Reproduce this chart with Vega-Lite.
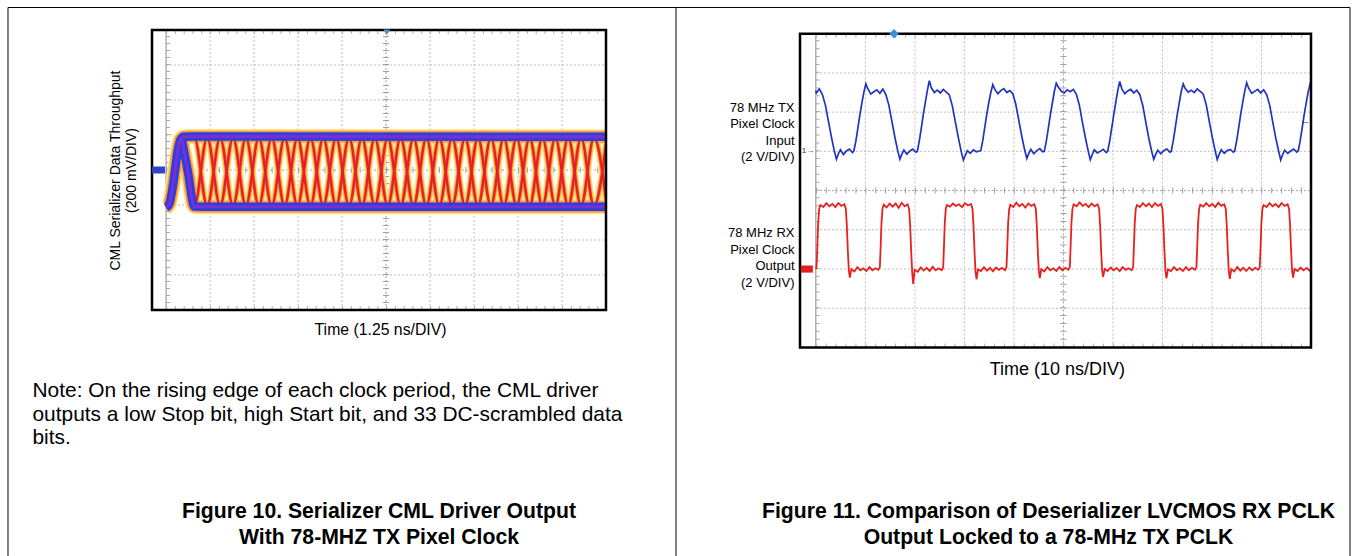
{
  "$schema": "https://vega.github.io/schema/vega-lite/v6.json",
  "background": "white",
  "padding": {"left": 7, "top": 6, "right": 2, "bottom": 0},
  "bounds": "flush",
  "spacing": 194,
  "config": {
    "view": {"stroke": null},
    "font": "Liberation Sans",
    "axis": {"domain": false, "ticks": false, "grid": false, "labelColor": "#000", "titleColor": "#000", "titleFontWeight": "normal", "labelFont": "Liberation Sans", "titleFont": "Liberation Sans"},
    "title": {"font": "Liberation Sans", "color": "#000"}
  },
  "datasets": {
    "one": [{}],
    "gridLx": [{"t":1.25},{"t":2.5},{"t":3.75},{"t":5},{"t":7.5},{"t":8.75},{"t":10},{"t":11.25}],
    "gridLy": [{"v":-600},{"v":-400},{"v":-200},{"v":200},{"v":400},{"v":600}],
    "gridRx": [{"t":10},{"t":20},{"t":30},{"t":40},{"t":60},{"t":70},{"t":80},{"t":90}],
    "gridRy": [{"v":-3},{"v":-2},{"v":-1},{"v":1},{"v":2},{"v":3}],
    "eye": [
      {"trace":"A","t":0.437,"v":185},{"trace":"A","t":0.803,"v":-205},{"trace":"A","t":1.169,"v":185},{"trace":"A","t":1.536,"v":-205},{"trace":"A","t":1.902,"v":185},{"trace":"A","t":2.268,"v":-205},{"trace":"A","t":2.635,"v":185},{"trace":"A","t":3.001,"v":-205},{"trace":"A","t":3.367,"v":185},{"trace":"A","t":3.733,"v":-205},{"trace":"A","t":4.1,"v":185},{"trace":"A","t":4.466,"v":-205},{"trace":"A","t":4.832,"v":185},{"trace":"A","t":5.199,"v":-205},{"trace":"A","t":5.565,"v":185},{"trace":"A","t":5.931,"v":-205},{"trace":"A","t":6.298,"v":185},{"trace":"A","t":6.664,"v":-205},{"trace":"A","t":7.03,"v":185},{"trace":"A","t":7.396,"v":-205},{"trace":"A","t":7.763,"v":185},{"trace":"A","t":8.129,"v":-205},{"trace":"A","t":8.495,"v":185},{"trace":"A","t":8.862,"v":-205},{"trace":"A","t":9.228,"v":185},{"trace":"A","t":9.594,"v":-205},{"trace":"A","t":9.961,"v":185},{"trace":"A","t":10.327,"v":-205},{"trace":"A","t":10.693,"v":185},{"trace":"A","t":11.06,"v":-205},{"trace":"A","t":11.426,"v":185},{"trace":"A","t":11.792,"v":-205},{"trace":"A","t":12.158,"v":185},{"trace":"A","t":12.525,"v":-205},
      {"trace":"B","t":0.437,"v":185},{"trace":"B","t":0.803,"v":185},{"trace":"B","t":1.169,"v":-205},{"trace":"B","t":1.536,"v":185},{"trace":"B","t":1.902,"v":-205},{"trace":"B","t":2.268,"v":185},{"trace":"B","t":2.635,"v":-205},{"trace":"B","t":3.001,"v":185},{"trace":"B","t":3.367,"v":-205},{"trace":"B","t":3.733,"v":185},{"trace":"B","t":4.1,"v":-205},{"trace":"B","t":4.466,"v":185},{"trace":"B","t":4.832,"v":-205},{"trace":"B","t":5.199,"v":185},{"trace":"B","t":5.565,"v":-205},{"trace":"B","t":5.931,"v":185},{"trace":"B","t":6.298,"v":-205},{"trace":"B","t":6.664,"v":185},{"trace":"B","t":7.03,"v":-205},{"trace":"B","t":7.396,"v":185},{"trace":"B","t":7.763,"v":-205},{"trace":"B","t":8.129,"v":185},{"trace":"B","t":8.495,"v":-205},{"trace":"B","t":8.862,"v":185},{"trace":"B","t":9.228,"v":-205},{"trace":"B","t":9.594,"v":185},{"trace":"B","t":9.961,"v":-205},{"trace":"B","t":10.327,"v":185},{"trace":"B","t":10.693,"v":-205},{"trace":"B","t":11.06,"v":185},{"trace":"B","t":11.426,"v":-205},{"trace":"B","t":11.792,"v":185},{"trace":"B","t":12.158,"v":-205},{"trace":"B","t":12.525,"v":185}
    ],
    "band": [
      {"trace":"hi","t":0,"v":-215},{"trace":"hi","t":0.09,"v":-195},{"trace":"hi","t":0.17,"v":-120},{"trace":"hi","t":0.25,"v":-10},{"trace":"hi","t":0.33,"v":110},{"trace":"hi","t":0.41,"v":175},{"trace":"hi","t":0.5,"v":190},{"trace":"hi","t":0.8,"v":191},{"trace":"hi","t":12.5,"v":190},
      {"trace":"lo","t":0.437,"v":188},{"trace":"lo","t":0.62,"v":-10},{"trace":"lo","t":0.803,"v":-208},{"trace":"lo","t":1.2,"v":-210},{"trace":"lo","t":12.5,"v":-210}
    ],
    "tx": [
      {"t":0,"v":2.55},{"t":0.111,"v":2.49},{"t":0.717,"v":2.59},{"t":1.323,"v":2.45},{"t":1.929,"v":2.18},{"t":2.536,"v":1.77},{"t":3.142,"v":1.37},{"t":3.748,"v":1.0},{"t":4.152,"v":0.8},{"t":4.556,"v":0.94},{"t":4.96,"v":1.04},{"t":5.566,"v":0.92},{"t":6.172,"v":1.01},{"t":6.778,"v":1.06},{"t":7.384,"v":0.97},
      {"t":7.677,"v":1.01},{"t":8.081,"v":1.26},{"t":8.485,"v":1.59},{"t":8.889,"v":1.93},{"t":9.293,"v":2.23},{"t":9.697,"v":2.51},{"t":10.101,"v":2.72},{"t":10.505,"v":2.59},{"t":11.111,"v":2.46},{"t":11.717,"v":2.52},{"t":12.323,"v":2.57},{"t":12.929,"v":2.48},{"t":13.535,"v":2.59},{"t":14.141,"v":2.45},{"t":14.747,"v":2.18},{"t":15.354,"v":1.77},{"t":15.96,"v":1.36},{"t":16.566,"v":1.0},{"t":16.97,"v":0.8},{"t":17.374,"v":0.93},{"t":17.778,"v":1.03},{"t":18.384,"v":0.93},{"t":18.99,"v":1.01},{"t":19.596,"v":1.06},{"t":20.202,"v":0.98},
      {"t":20.495,"v":1.0},{"t":20.899,"v":1.27},{"t":21.303,"v":1.6},{"t":21.707,"v":1.94},{"t":22.111,"v":2.25},{"t":22.515,"v":2.55},{"t":22.919,"v":2.8},{"t":23.323,"v":2.62},{"t":23.929,"v":2.5},{"t":24.535,"v":2.56},{"t":25.141,"v":2.49},{"t":25.747,"v":2.58},{"t":26.353,"v":2.51},{"t":26.959,"v":2.44},{"t":27.565,"v":2.16},{"t":28.172,"v":1.75},{"t":28.778,"v":1.35},{"t":29.384,"v":0.98},{"t":29.788,"v":0.78},{"t":30.192,"v":0.9},{"t":30.596,"v":1.02},{"t":31.202,"v":0.95},{"t":31.808,"v":1.04},{"t":32.414,"v":0.99},{"t":33.02,"v":1.01},
      {"t":33.313,"v":1.02},{"t":33.717,"v":1.28},{"t":34.121,"v":1.62},{"t":34.525,"v":1.95},{"t":34.929,"v":2.24},{"t":35.333,"v":2.5},{"t":35.737,"v":2.7},{"t":36.141,"v":2.58},{"t":36.747,"v":2.47},{"t":37.353,"v":2.55},{"t":37.959,"v":2.6},{"t":38.565,"v":2.5},{"t":39.171,"v":2.55},{"t":39.777,"v":2.47},{"t":40.383,"v":2.2},{"t":40.99,"v":1.79},{"t":41.596,"v":1.38},{"t":42.202,"v":1.02},{"t":42.606,"v":0.82},{"t":43.01,"v":0.95},{"t":43.414,"v":1.05},{"t":44.02,"v":0.94},{"t":44.626,"v":1.02},{"t":45.232,"v":1.07},{"t":45.838,"v":0.99},
      {"t":46.131,"v":1.0},{"t":46.535,"v":1.25},{"t":46.939,"v":1.58},{"t":47.343,"v":1.92},{"t":47.747,"v":2.22},{"t":48.151,"v":2.52},{"t":48.555,"v":2.74},{"t":48.959,"v":2.64},{"t":49.565,"v":2.53},{"t":50.171,"v":2.49},{"t":50.777,"v":2.57},{"t":51.383,"v":2.52},{"t":51.989,"v":2.58},{"t":52.595,"v":2.46},{"t":53.201,"v":2.19},{"t":53.808,"v":1.76},{"t":54.414,"v":1.36},{"t":55.02,"v":1.0},{"t":55.424,"v":0.79},{"t":55.828,"v":0.92},{"t":56.232,"v":1.04},{"t":56.838,"v":0.96},{"t":57.444,"v":1.0},{"t":58.05,"v":1.05},{"t":58.656,"v":0.97},
      {"t":58.95,"v":1.01},{"t":59.354,"v":1.27},{"t":59.758,"v":1.6},{"t":60.162,"v":1.93},{"t":60.566,"v":2.24},{"t":60.97,"v":2.55},{"t":61.374,"v":2.78},{"t":61.778,"v":2.6},{"t":62.384,"v":2.47},{"t":62.99,"v":2.54},{"t":63.596,"v":2.58},{"t":64.202,"v":2.49},{"t":64.808,"v":2.56},{"t":65.414,"v":2.45},{"t":66.02,"v":2.17},{"t":66.627,"v":1.75},{"t":67.233,"v":1.34},{"t":67.839,"v":0.99},{"t":68.243,"v":0.8},{"t":68.647,"v":0.93},{"t":69.051,"v":1.03},{"t":69.657,"v":0.94},{"t":70.263,"v":1.02},{"t":70.869,"v":1.06},{"t":71.475,"v":0.98},
      {"t":71.768,"v":1.0},{"t":72.172,"v":1.26},{"t":72.576,"v":1.59},{"t":72.98,"v":1.93},{"t":73.384,"v":2.23},{"t":73.788,"v":2.52},{"t":74.192,"v":2.72},{"t":74.596,"v":2.6},{"t":75.202,"v":2.51},{"t":75.808,"v":2.56},{"t":76.414,"v":2.5},{"t":77.02,"v":2.59},{"t":77.626,"v":2.53},{"t":78.232,"v":2.46},{"t":78.838,"v":2.19},{"t":79.445,"v":1.77},{"t":80.051,"v":1.37},{"t":80.657,"v":1.01},{"t":81.061,"v":0.79},{"t":81.465,"v":0.93},{"t":81.869,"v":1.04},{"t":82.475,"v":0.95},{"t":83.081,"v":1.02},{"t":83.687,"v":1.05},{"t":84.293,"v":0.98},
      {"t":84.586,"v":1.01},{"t":84.99,"v":1.27},{"t":85.394,"v":1.6},{"t":85.798,"v":1.94},{"t":86.202,"v":2.24},{"t":86.606,"v":2.53},{"t":87.01,"v":2.75},{"t":87.414,"v":2.61},{"t":88.02,"v":2.48},{"t":88.626,"v":2.53},{"t":89.232,"v":2.58},{"t":89.838,"v":2.49},{"t":90.444,"v":2.57},{"t":91.05,"v":2.45},{"t":91.656,"v":2.18},{"t":92.263,"v":1.76},{"t":92.869,"v":1.35},{"t":93.475,"v":1.0},{"t":93.879,"v":0.78},{"t":94.283,"v":0.92},{"t":94.687,"v":1.03},{"t":95.293,"v":0.95},{"t":95.899,"v":1.01},{"t":96.505,"v":1.06},{"t":97.111,"v":0.98},
      {"t":97.404,"v":1.01},{"t":97.808,"v":1.26},{"t":98.212,"v":1.59},{"t":98.616,"v":1.93},{"t":99.02,"v":2.23},{"t":99.424,"v":2.51},{"t":99.828,"v":2.72},{"t":100.232,"v":2.6}
    ],
    "rx": [
      {"t":0,"v":-2.0},
      {"t":0.141,"v":-1.95},{"t":0.303,"v":-1.42},{"t":0.465,"v":-0.83},{"t":0.667,"v":-0.47},{"t":0.909,"v":-0.37},{"t":1.515,"v":-0.42},{"t":2.121,"v":-0.32},{"t":2.727,"v":-0.4},{"t":3.333,"v":-0.34},{"t":3.939,"v":-0.42},{"t":4.545,"v":-0.32},{"t":5.151,"v":-0.39},{"t":5.758,"v":-0.35},{"t":6.061,"v":-0.47},{"t":6.263,"v":-0.91},{"t":6.465,"v":-1.54},{"t":6.667,"v":-2.05},{"t":6.869,"v":-2.22},{"t":7.172,"v":-2.0},{"t":7.778,"v":-2.06},{"t":8.384,"v":-1.95},{"t":8.99,"v":-2.03},{"t":9.596,"v":-1.98},{"t":10.202,"v":-2.05},{"t":10.808,"v":-1.95},{"t":11.414,"v":-2.03},{"t":12.02,"v":-1.98},{"t":12.626,"v":-2.02},
      {"t":12.929,"v":-1.95},{"t":13.091,"v":-1.42},{"t":13.253,"v":-0.83},{"t":13.455,"v":-0.47},{"t":13.697,"v":-0.36},{"t":14.303,"v":-0.43},{"t":14.909,"v":-0.33},{"t":15.515,"v":-0.41},{"t":16.121,"v":-0.33},{"t":16.727,"v":-0.44},{"t":17.333,"v":-0.31},{"t":17.939,"v":-0.4},{"t":18.546,"v":-0.35},{"t":18.849,"v":-0.48},{"t":19.051,"v":-0.91},{"t":19.253,"v":-1.55},{"t":19.455,"v":-2.08},{"t":19.657,"v":-2.38},{"t":19.96,"v":-2.02},{"t":20.566,"v":-2.07},{"t":21.172,"v":-1.96},{"t":21.778,"v":-2.04},{"t":22.384,"v":-1.97},{"t":22.99,"v":-2.05},{"t":23.596,"v":-1.94},{"t":24.202,"v":-2.03},{"t":24.808,"v":-1.98},{"t":25.414,"v":-2.03},
      {"t":25.717,"v":-1.96},{"t":25.879,"v":-1.41},{"t":26.041,"v":-0.82},{"t":26.243,"v":-0.46},{"t":26.485,"v":-0.37},{"t":27.091,"v":-0.41},{"t":27.697,"v":-0.33},{"t":28.303,"v":-0.39},{"t":28.909,"v":-0.35},{"t":29.515,"v":-0.42},{"t":30.121,"v":-0.32},{"t":30.727,"v":-0.38},{"t":31.334,"v":-0.34},{"t":31.637,"v":-0.47},{"t":31.839,"v":-0.9},{"t":32.041,"v":-1.54},{"t":32.243,"v":-2.06},{"t":32.445,"v":-2.26},{"t":32.748,"v":-2.01},{"t":33.354,"v":-2.05},{"t":33.96,"v":-1.95},{"t":34.566,"v":-2.04},{"t":35.172,"v":-1.97},{"t":35.778,"v":-2.06},{"t":36.384,"v":-1.96},{"t":36.99,"v":-2.02},{"t":37.596,"v":-1.97},{"t":38.202,"v":-2.03},
      {"t":38.505,"v":-1.95},{"t":38.667,"v":-1.42},{"t":38.829,"v":-0.84},{"t":39.031,"v":-0.48},{"t":39.273,"v":-0.36},{"t":39.879,"v":-0.42},{"t":40.485,"v":-0.31},{"t":41.091,"v":-0.4},{"t":41.697,"v":-0.34},{"t":42.303,"v":-0.43},{"t":42.909,"v":-0.33},{"t":43.515,"v":-0.39},{"t":44.122,"v":-0.35},{"t":44.425,"v":-0.47},{"t":44.627,"v":-0.91},{"t":44.829,"v":-1.54},{"t":45.031,"v":-2.05},{"t":45.233,"v":-2.23},{"t":45.536,"v":-2.0},{"t":46.142,"v":-2.06},{"t":46.748,"v":-1.95},{"t":47.354,"v":-2.03},{"t":47.96,"v":-1.98},{"t":48.566,"v":-2.05},{"t":49.172,"v":-1.95},{"t":49.778,"v":-2.03},{"t":50.384,"v":-1.97},{"t":50.99,"v":-2.02},
      {"t":51.293,"v":-1.95},{"t":51.455,"v":-1.42},{"t":51.617,"v":-0.83},{"t":51.819,"v":-0.47},{"t":52.061,"v":-0.35},{"t":52.667,"v":-0.4},{"t":53.273,"v":-0.3},{"t":53.879,"v":-0.39},{"t":54.485,"v":-0.34},{"t":55.091,"v":-0.42},{"t":55.697,"v":-0.33},{"t":56.303,"v":-0.4},{"t":56.91,"v":-0.35},{"t":57.213,"v":-0.47},{"t":57.415,"v":-0.91},{"t":57.617,"v":-1.54},{"t":57.819,"v":-2.05},{"t":58.021,"v":-2.2},{"t":58.324,"v":-2.0},{"t":58.93,"v":-2.05},{"t":59.536,"v":-1.96},{"t":60.142,"v":-2.03},{"t":60.748,"v":-1.97},{"t":61.354,"v":-2.05},{"t":61.96,"v":-1.95},{"t":62.566,"v":-2.02},{"t":63.172,"v":-1.98},{"t":63.778,"v":-2.03},
      {"t":64.08,"v":-1.95},{"t":64.242,"v":-1.41},{"t":64.404,"v":-0.83},{"t":64.606,"v":-0.47},{"t":64.848,"v":-0.37},{"t":65.454,"v":-0.42},{"t":66.06,"v":-0.32},{"t":66.666,"v":-0.4},{"t":67.272,"v":-0.33},{"t":67.878,"v":-0.42},{"t":68.484,"v":-0.32},{"t":69.09,"v":-0.39},{"t":69.697,"v":-0.34},{"t":70.0,"v":-0.47},{"t":70.202,"v":-0.91},{"t":70.404,"v":-1.55},{"t":70.606,"v":-2.06},{"t":70.808,"v":-2.24},{"t":71.111,"v":-2.01},{"t":71.717,"v":-2.05},{"t":72.323,"v":-1.95},{"t":72.929,"v":-2.03},{"t":73.535,"v":-1.98},{"t":74.141,"v":-2.05},{"t":74.747,"v":-1.95},{"t":75.353,"v":-2.03},{"t":75.959,"v":-1.97},{"t":76.565,"v":-2.02},
      {"t":76.868,"v":-1.95},{"t":77.03,"v":-1.42},{"t":77.192,"v":-0.83},{"t":77.394,"v":-0.47},{"t":77.636,"v":-0.36},{"t":78.242,"v":-0.41},{"t":78.848,"v":-0.32},{"t":79.454,"v":-0.4},{"t":80.06,"v":-0.34},{"t":80.666,"v":-0.42},{"t":81.272,"v":-0.31},{"t":81.878,"v":-0.39},{"t":82.485,"v":-0.35},{"t":82.788,"v":-0.47},{"t":82.99,"v":-0.9},{"t":83.192,"v":-1.54},{"t":83.394,"v":-2.05},{"t":83.596,"v":-2.25},{"t":83.899,"v":-2.0},{"t":84.505,"v":-2.06},{"t":85.111,"v":-1.95},{"t":85.717,"v":-2.04},{"t":86.323,"v":-1.97},{"t":86.929,"v":-2.05},{"t":87.535,"v":-1.96},{"t":88.141,"v":-2.03},{"t":88.747,"v":-1.97},{"t":89.353,"v":-2.02},
      {"t":89.656,"v":-1.95},{"t":89.818,"v":-1.42},{"t":89.98,"v":-0.83},{"t":90.182,"v":-0.47},{"t":90.424,"v":-0.37},{"t":91.03,"v":-0.42},{"t":91.636,"v":-0.32},{"t":92.242,"v":-0.4},{"t":92.848,"v":-0.34},{"t":93.454,"v":-0.42},{"t":94.06,"v":-0.32},{"t":94.666,"v":-0.39},{"t":95.273,"v":-0.35},{"t":95.576,"v":-0.47},{"t":95.778,"v":-0.91},{"t":95.98,"v":-1.54},{"t":96.182,"v":-2.05},{"t":96.384,"v":-2.22},{"t":96.687,"v":-2.0},{"t":97.293,"v":-2.05},{"t":97.899,"v":-1.96},{"t":98.505,"v":-2.03},{"t":99.111,"v":-1.97},{"t":99.717,"v":-2.04},{"t":100,"v":-2.0}
    ]
  },
  "hconcat": [
    {
      "width": 454,
      "height": 280,
      "title": {"text": ["Figure 10. Serializer CML Driver Output", "With 78-MHZ TX Pixel Clock"], "orient": "bottom", "anchor": "middle", "frame": "group", "baseline": "top", "fontSize": 21.2, "fontWeight": "bold", "lineHeight": 26, "offset": -55},
      "layer": [
        {
          "data": {"name": "gridLx"},
          "mark": {"type": "rule", "color": "#bdbdbd", "strokeWidth": 1, "strokeDash": [2, 2]},
          "encoding": {
            "x": {"field": "t", "type": "quantitative", "scale": {"domain": [-0.4, 12.5], "nice": false, "zero": false},
                  "axis": {"values": [6.25], "labelExpr": "'Time (1.25 ns/DIV)'", "labelFontSize": 15.8, "labelPadding": 12, "labelOffset": -6, "labelOverlap": false, "labelFlush": false, "labelBound": false,
                           "title": ["Note: On the rising edge of each clock period, the CML driver", "outputs a low Stop bit, high Start bit, and 33 DC-scrambled data", "bits."],
                           "titleFontSize": 20.9, "titleLineHeight": 23.5, "titleAlign": "left", "titleAnchor": "start", "titleX": -120, "titlePadding": 43}},
            "y": {"datum": -800, "type": "quantitative", "scale": {"domain": [-800, 800], "nice": false, "zero": false},
                  "axis": {"labels": false, "title": ["CML Serializer Data Throughput", "(200 mV/DIV)"], "titleFontSize": 14, "titleLineHeight": 16, "titlePadding": 14}},
            "y2": {"datum": 800}
          }
        },
        {
          "data": {"name": "gridLy"},
          "mark": {"type": "rule", "color": "#bdbdbd", "strokeWidth": 1, "strokeDash": [2, 2]},
          "encoding": {"y": {"field": "v", "type": "quantitative"}, "x": {"datum": 0}, "x2": {"datum": 12.5}}
        },
        {
          "data": {"name": "one"},
          "mark": {"type": "rule", "color": "#a0a0a0", "strokeWidth": 1, "strokeDash": [2, 2]},
          "encoding": {"x": {"datum": 6.25}, "y": {"datum": -800}, "y2": {"datum": 800}}
        },
        {
          "data": {"name": "one"},
          "mark": {"type": "rule", "color": "#a0a0a0", "strokeWidth": 6, "strokeDash": [1, 6]},
          "encoding": {"x": {"datum": 6.25}, "y": {"datum": -800}, "y2": {"datum": 800}}
        },
        {
          "data": {"name": "one"},
          "mark": {"type": "rule", "color": "#a0a0a0", "strokeWidth": 1, "strokeDash": [2, 2]},
          "encoding": {"y": {"datum": 0}, "x": {"datum": 0}, "x2": {"datum": 12.5}}
        },
        {
          "data": {"name": "one"},
          "mark": {"type": "rule", "color": "#a0a0a0", "strokeWidth": 6, "strokeDash": [1, 7.8]},
          "encoding": {"y": {"datum": 0}, "x": {"datum": 0}, "x2": {"datum": 12.5}}
        },
        {
          "data": {"name": "one"},
          "mark": {"type": "rule", "color": "#8a8a8a", "strokeWidth": 1},
          "encoding": {"x": {"datum": 0}, "y": {"datum": -800}, "y2": {"datum": 800}}
        },
        {
          "data": {"name": "one"},
          "mark": {"type": "rule", "color": "#a8a8a8", "strokeWidth": 4, "strokeDash": [1, 6]},
          "encoding": {"x": {"datum": 0.055}, "y": {"datum": -800}, "y2": {"datum": 800}}
        },
        {
          "data": {"name": "one"},
          "mark": {"type": "rule", "color": "#b0b0b0", "strokeWidth": 4, "strokeDash": [1, 7.8]},
          "encoding": {"y": {"datum": 789}, "x": {"datum": 0}, "x2": {"datum": 12.5}}
        },
        {
          "data": {"name": "one"},
          "mark": {"type": "rule", "color": "#b0b0b0", "strokeWidth": 4, "strokeDash": [1, 7.8]},
          "encoding": {"y": {"datum": -789}, "x": {"datum": 0}, "x2": {"datum": 12.5}}
        },
        {
          "data": {"name": "eye"},
          "mark": {"type": "line", "interpolate": "monotone", "color": "#ffe27a", "strokeWidth": 7, "clip": true},
          "encoding": {"x": {"field": "t", "type": "quantitative"}, "y": {"field": "v", "type": "quantitative"}, "detail": {"field": "trace"}}
        },
        {
          "data": {"name": "band"},
          "mark": {"type": "line", "interpolate": "monotone", "color": "#ffe680", "strokeWidth": 15, "clip": true},
          "encoding": {"x": {"field": "t", "type": "quantitative"}, "y": {"field": "v", "type": "quantitative"}, "detail": {"field": "trace"}}
        },
        {
          "data": {"name": "eye"},
          "mark": {"type": "line", "interpolate": "monotone", "color": "#ffa040", "strokeWidth": 4.5, "clip": true},
          "encoding": {"x": {"field": "t", "type": "quantitative"}, "y": {"field": "v", "type": "quantitative"}, "detail": {"field": "trace"}}
        },
        {
          "data": {"name": "band"},
          "mark": {"type": "line", "interpolate": "monotone", "color": "#ff9a40", "strokeWidth": 12, "clip": true},
          "encoding": {"x": {"field": "t", "type": "quantitative"}, "y": {"field": "v", "type": "quantitative"}, "detail": {"field": "trace"}}
        },
        {
          "data": {"name": "eye"},
          "mark": {"type": "line", "interpolate": "monotone", "color": "#e3212b", "strokeWidth": 2.5, "clip": true},
          "encoding": {"x": {"field": "t", "type": "quantitative"}, "y": {"field": "v", "type": "quantitative"}, "detail": {"field": "trace"}}
        },
        {
          "data": {"name": "band"},
          "mark": {"type": "line", "interpolate": "monotone", "color": "#2b3fe0", "strokeWidth": 8.5, "clip": true},
          "encoding": {"x": {"field": "t", "type": "quantitative"}, "y": {"field": "v", "type": "quantitative"}, "detail": {"field": "trace"}}
        },
        {
          "data": {"name": "band"},
          "mark": {"type": "line", "interpolate": "monotone", "color": "#7b2fd0", "strokeWidth": 3, "clip": true},
          "encoding": {"x": {"field": "t", "type": "quantitative"}, "y": {"field": "v", "type": "quantitative"}, "detail": {"field": "trace"}}
        },
        {
          "data": {"name": "one"},
          "mark": {"type": "rect", "fill": "transparent", "stroke": "#000", "strokeWidth": 2.5},
          "encoding": {"x": {"datum": -0.4}, "x2": {"datum": 12.5}, "y": {"datum": -800}, "y2": {"datum": 800}}
        },
        {
          "data": {"name": "one"},
          "mark": {"type": "rule", "color": "#000", "strokeWidth": 1},
          "encoding": {"x": {"datum": -4.492}, "x2": {"datum": 14.489}, "y": {"datum": 928.6}}
        },
        {
          "data": {"name": "one"},
          "mark": {"type": "rule", "color": "#000", "strokeWidth": 1},
          "encoding": {"x": {"datum": -4.492}, "y": {"datum": 928.6}, "y2": {"datum": -2205.7}}
        },
        {
          "data": {"name": "one"},
          "mark": {"type": "rule", "color": "#000", "strokeWidth": 1},
          "encoding": {"x": {"datum": 14.489}, "y": {"datum": 928.6}, "y2": {"datum": -2205.7}}
        },
        {
          "data": {"name": "one"},
          "mark": {"type": "rect", "fill": "#2f45c8"},
          "encoding": {"x": {"datum": -0.4}, "x2": {"datum": -0.03}, "y": {"datum": -20}, "y2": {"datum": 20}}
        },
        {
          "data": {"name": "one"},
          "mark": {"type": "point", "shape": "triangle-down", "filled": true, "size": 45, "color": "#4f8fd0", "opacity": 1},
          "encoding": {"x": {"datum": 6.27}, "y": {"datum": 786}}
        }
      ]
    },
    {
      "width": 511,
      "height": 317.5,
      "title": {"text": ["Figure 11. Comparison of Deserializer LVCMOS RX PCLK", "Output Locked to a 78-MHz TX PCLK"], "orient": "bottom", "anchor": "middle", "frame": "group", "baseline": "top", "fontSize": 21.2, "fontWeight": "bold", "lineHeight": 26, "offset": -55, "dx": -7},
      "layer": [
        {
          "data": {"name": "gridRx"},
          "mark": {"type": "rule", "color": "#bdbdbd", "strokeWidth": 1, "strokeDash": [2, 2]},
          "encoding": {
            "x": {"field": "t", "type": "quantitative", "scale": {"domain": [-3.2, 100], "nice": false, "zero": false},
                  "axis": {"values": [50], "labelExpr": "'Time (10 ns/DIV)'", "labelFontSize": 18, "labelPadding": 13, "labelOffset": -6.5, "labelOverlap": false, "labelFlush": false, "labelBound": false, "title": null}},
            "y": {"datum": -4, "type": "quantitative", "scale": {"domain": [-4, 4.094], "nice": false, "zero": false},
                  "axis": {"values": [2.131, -1.081], "labelExpr": "datum.value > 0 ? ['78 MHz TX', 'Pixel Clock', 'Input', '(2 V/DIV)'] : ['78 MHz RX', 'Pixel Clock', 'Output', '(2 V/DIV)']", "labelFontSize": 13, "labelLineHeight": 16.5, "labelPadding": 6, "labelBaseline": "middle", "labelAlign": "right", "labelOverlap": false, "labelFlush": false, "labelBound": false, "title": null}},
            "y2": {"datum": 4}
          }
        },
        {
          "data": {"name": "gridRy"},
          "mark": {"type": "rule", "color": "#bdbdbd", "strokeWidth": 1, "strokeDash": [2, 2]},
          "encoding": {"y": {"field": "v", "type": "quantitative"}, "x": {"datum": 0}, "x2": {"datum": 100}}
        },
        {
          "data": {"name": "one"},
          "mark": {"type": "rule", "color": "#a0a0a0", "strokeWidth": 1, "strokeDash": [2, 2]},
          "encoding": {"x": {"datum": 50}, "y": {"datum": -4}, "y2": {"datum": 4}}
        },
        {
          "data": {"name": "one"},
          "mark": {"type": "rule", "color": "#a0a0a0", "strokeWidth": 6, "strokeDash": [1, 6.85]},
          "encoding": {"x": {"datum": 50}, "y": {"datum": -4}, "y2": {"datum": 4}}
        },
        {
          "data": {"name": "one"},
          "mark": {"type": "rule", "color": "#a0a0a0", "strokeWidth": 1, "strokeDash": [2, 2]},
          "encoding": {"y": {"datum": 0}, "x": {"datum": 0}, "x2": {"datum": 100}}
        },
        {
          "data": {"name": "one"},
          "mark": {"type": "rule", "color": "#a0a0a0", "strokeWidth": 6, "strokeDash": [1, 8.9]},
          "encoding": {"y": {"datum": 0}, "x": {"datum": 0}, "x2": {"datum": 100}}
        },
        {
          "data": {"name": "one"},
          "mark": {"type": "rule", "color": "#8a8a8a", "strokeWidth": 1},
          "encoding": {"x": {"datum": 0}, "y": {"datum": -4}, "y2": {"datum": 4}}
        },
        {
          "data": {"name": "one"},
          "mark": {"type": "rule", "color": "#a8a8a8", "strokeWidth": 4, "strokeDash": [1, 6.85]},
          "encoding": {"x": {"datum": 0.35}, "y": {"datum": -4}, "y2": {"datum": 4}}
        },
        {
          "data": {"name": "one"},
          "mark": {"type": "rule", "color": "#b0b0b0", "strokeWidth": 4, "strokeDash": [1, 8.9]},
          "encoding": {"y": {"datum": 3.95}, "x": {"datum": 0}, "x2": {"datum": 100}}
        },
        {
          "data": {"name": "one"},
          "mark": {"type": "rule", "color": "#b0b0b0", "strokeWidth": 4, "strokeDash": [1, 8.9]},
          "encoding": {"y": {"datum": -3.95}, "x": {"datum": 0}, "x2": {"datum": 100}}
        },
        {
          "data": {"name": "rx"},
          "mark": {"type": "line", "color": "#e8201e", "strokeWidth": 1.8, "clip": true},
          "encoding": {"x": {"field": "t", "type": "quantitative"}, "y": {"field": "v", "type": "quantitative"}}
        },
        {
          "data": {"name": "tx"},
          "mark": {"type": "line", "color": "#2233c0", "strokeWidth": 1.7, "clip": true},
          "encoding": {"x": {"field": "t", "type": "quantitative"}, "y": {"field": "v", "type": "quantitative"}}
        },
        {
          "data": {"name": "one"},
          "mark": {"type": "rect", "fill": "transparent", "stroke": "#000", "strokeWidth": 2.5},
          "encoding": {"x": {"datum": -3.2}, "x2": {"datum": 100}, "y": {"datum": -4}, "y2": {"datum": 4}}
        },
        {
          "data": {"name": "one"},
          "mark": {"type": "rule", "color": "#000", "strokeWidth": 1},
          "encoding": {"x": {"datum": -28.243}, "x2": {"datum": 107.877}, "y": {"datum": 4.668}}
        },
        {
          "data": {"name": "one"},
          "mark": {"type": "rule", "color": "#000", "strokeWidth": 1},
          "encoding": {"x": {"datum": 107.877}, "y": {"datum": 4.668}, "y2": {"datum": -9.315}}
        },
        {
          "data": {"name": "one"},
          "mark": {"type": "text", "text": "1→", "fontSize": 8, "color": "#222266", "align": "center", "baseline": "middle"},
          "encoding": {"x": {"datum": -1.6}, "y": {"datum": 1.0}}
        },
        {
          "data": {"name": "one"},
          "mark": {"type": "rect", "fill": "#e02020"},
          "encoding": {"x": {"datum": -3.0}, "x2": {"datum": -0.6}, "y": {"datum": -2.09}, "y2": {"datum": -1.91}}
        },
        {
          "data": {"name": "one"},
          "mark": {"type": "point", "shape": "diamond", "filled": true, "size": 90, "color": "#3a8ed6", "opacity": 1},
          "encoding": {"x": {"datum": 15.78}, "y": {"datum": 4.0}}
        },
        {
          "data": {"name": "one"},
          "mark": {"type": "text", "text": "←", "fontSize": 11, "color": "#2030a0", "align": "right", "baseline": "middle"},
          "encoding": {"x": {"datum": 100}, "y": {"datum": 1.774}}
        }
      ]
    }
  ]
}
